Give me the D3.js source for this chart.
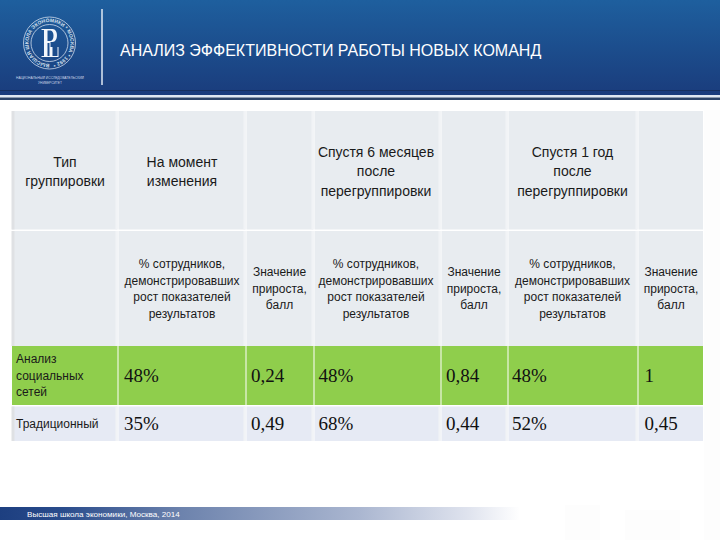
<!DOCTYPE html>
<html>
<head>
<meta charset="utf-8">
<script src="https://d3js.org/d3.v7.min.js"></script>
<style>
html, body { margin: 0; padding: 0; background: #fff; }
svg { display: block; }
</style>
</head>
<body>
<script>
var title = 'АНАЛИЗ ЭФФЕКТИВНОСТИ РАБОТЫ НОВЫХ КОМАНД';
var footer = 'Высшая школа экономики, Москва, 2014';

var columns = ['group', 'now', 'nowScore', 'sixMonths', 'sixScore', 'oneYear', 'yearScore'];
var rows = ['head', 'sub', 'social', 'trad'];

var headRow = [['Тип', 'группировки'], ['На момент', 'изменения'], [],
    ['Спустя 6 месяцев', 'после', 'перегруппировки'], [],
    ['Спустя 1 год', 'после', 'перегруппировки'], []];
var share = ['% сотрудников,', 'демонстрировавших', 'рост показателей', 'результатов'];
var score = ['Значение', 'прироста,', 'балл'];
var subRow = [[], share, score, share, score, share, score];

var groups = [['Анализ', 'социальных', 'сетей'], ['Традиционный']];
var socialValues = ['48%', '0,24', '48%', '0,84', '48%', '1'];
var tradValues = ['35%', '0,49', '68%', '0,44', '52%', '0,45'];

var colEdge = d3.scaleOrdinal().domain(columns).range([12, 118.5, 246.5, 314.5, 441.5, 508.5, 638.5]);
var colEnd = d3.scaleOrdinal().domain(columns).range([117.5, 245.5, 313.5, 440.5, 507.5, 637.5, 703]);
var colText = d3.scaleOrdinal().domain(columns).range([65, 182, 279.5, 376, 474, 572.5, 671]);
var valueX = d3.scaleOrdinal().domain(columns).range([16, 124, 251, 318.5, 446, 512, 644.5]);
var rowEdge = d3.scaleOrdinal().domain(rows).range([111, 231, 346, 406.5]);
var rowEnd = d3.scaleOrdinal().domain(rows).range([229.5, 346, 405, 441]);
var rowFill = d3.scaleOrdinal().domain(rows).range(['#e8ecf0', '#e8ecf0', '#8fce4c', '#e6eaf4']);

var svg = d3.select('body').append('svg')
    .attr('width', 720)
    .attr('height', 540)
    .attr('font-family', '"Liberation Sans", Arial, sans-serif');

var defs = svg.append('defs');

var headGrad = defs.append('linearGradient').attr('id', 'headGrad')
    .attr('x1', 0).attr('x2', 0).attr('y1', 0).attr('y2', 1);
headGrad.append('stop').attr('offset', '0%').attr('stop-color', '#1e5f9e');
headGrad.append('stop').attr('offset', '100%').attr('stop-color', '#1a3c7c');

var footGrad = defs.append('linearGradient').attr('id', 'footGrad');
footGrad.append('stop').attr('offset', '0%').attr('stop-color', '#1d3f80');
footGrad.append('stop').attr('offset', '12%').attr('stop-color', '#2a4c8c');
footGrad.append('stop').attr('offset', '35%').attr('stop-color', '#6d83ad');
footGrad.append('stop').attr('offset', '69%').attr('stop-color', '#aab6d0');
footGrad.append('stop').attr('offset', '90%').attr('stop-color', '#dfe3ee');
footGrad.append('stop').attr('offset', '100%').attr('stop-color', '#ffffff');

// faint watermark behind the table
var mark = svg.append('g').attr('fill', '#fdfdfd');
mark.append('rect').attr('x', 704).attr('y', 110).attr('width', 16).attr('height', 430);
mark.append('rect').attr('x', 565).attr('y', 505).attr('width', 35).attr('height', 35);
mark.append('rect').attr('x', 625).attr('y', 510).attr('width', 55).attr('height', 30);

// header band
svg.append('rect').attr('x', 0).attr('y', 0).attr('width', 720).attr('height', 95)
    .attr('fill', 'url(#headGrad)');
svg.append('rect').attr('x', 0).attr('y', 90).attr('width', 720).attr('height', 1)
    .attr('fill', '#16305f');
svg.append('rect').attr('x', 0).attr('y', 95).attr('width', 720).attr('height', 2.5)
    .attr('fill', '#dfe8f2');
svg.append('rect').attr('x', 0).attr('y', 97.5).attr('width', 720).attr('height', 2.5)
    .attr('fill', '#2c4468');

svg.append('line')
    .attr('x1', 102).attr('x2', 102).attr('y1', 9).attr('y2', 85)
    .attr('stroke', '#dfe8f4').attr('stroke-width', 1.5);

svg.append('text')
    .attr('x', 120).attr('y', 56)
    .attr('font-size', 16)
    .attr('fill', '#fff')
    .text(title);

// logo
var logo = svg.append('g').attr('transform', 'translate(49.5,43)');
logo.append('circle').attr('r', 26).attr('fill', 'none').attr('stroke', '#cfdcec').attr('stroke-width', 0.8);
logo.append('circle').attr('r', 18.5).attr('fill', 'none').attr('stroke', '#cfdcec').attr('stroke-width', 0.8);
logo.append('path').attr('id', 'ringPath').attr('fill', 'none')
    .attr('d', 'M0,21 A21,21 0 1 1 0.01,21');
logo.append('text')
    .attr('font-size', 5)
    .attr('font-weight', 'bold')
    .attr('fill', '#d5e0ee')
    .append('textPath')
    .attr('href', '#ringPath')
    .attr('textLength', 128)
    .text('ВЫСШАЯ ШКОЛА ЭКОНОМИКИ * МОСКВА * 1992 *');
// the R and H monogram
logo.append('path')
    .attr('fill', '#f2f6fb')
    .attr('fill-rule', 'evenodd')
    .attr('d', 'M-8,-14 H3 C9,-14 9,-1 3,-1 H1 V4 H3 V13 H8 V4 H9 V14 H-8 V13 H-5.5 V-13 H-8 Z M-2,-12.5 V-2 H1 C5,-2 5,-12.5 1,-12.5 Z M-2,0 V13 H0 V0 Z');

svg.append('text').attr('x', 50).attr('y', 78.5).attr('text-anchor', 'middle')
    .attr('font-size', 3.6).attr('fill', '#cdd9e8')
    .attr('textLength', 68).attr('lengthAdjust', 'spacingAndGlyphs')
    .text('НАЦИОНАЛЬНЫЙ ИССЛЕДОВАТЕЛЬСКИЙ');
svg.append('text').attr('x', 50).attr('y', 84).attr('text-anchor', 'middle')
    .attr('font-size', 3.6).attr('fill', '#cdd9e8')
    .attr('textLength', 24).attr('lengthAdjust', 'spacingAndGlyphs')
    .text('УНИВЕРСИТЕТ');

// table cells
var cells = [];
rows.forEach(function(r) {
    columns.forEach(function(c) {
        cells.push({row: r, col: c});
    });
});

svg.append('g').selectAll('rect')
    .data(cells)
    .join('rect')
    .attr('x', function(d) { return colEdge(d.col); })
    .attr('y', function(d) { return rowEdge(d.row); })
    .attr('width', function(d) { return colEnd(d.col) - colEdge(d.col); })
    .attr('height', function(d) { return rowEnd(d.row) - rowEdge(d.row); })
    .attr('fill', function(d) { return rowFill(d.row); });

// pale band next to each divider, only in the grey rows
svg.append('g').selectAll('rect')
    .data(cells.filter(function(d) { return d.row != 'social' && d.col != 'group'; }))
    .join('rect')
    .attr('x', function(d) { return colEdge(d.col) - 3; })
    .attr('y', function(d) { return rowEdge(d.row); })
    .attr('width', 2)
    .attr('height', function(d) { return rowEnd(d.row) - rowEdge(d.row); })
    .attr('fill', '#f1f3f6');

// darker left edge of the table
svg.append('g').selectAll('rect')
    .data(rows.filter(function(r) { return r != 'social'; }))
    .join('rect')
    .attr('x', 11.5)
    .attr('y', function(r) { return rowEdge(r); })
    .attr('width', 3)
    .attr('height', function(r) { return rowEnd(r) - rowEdge(r); })
    .attr('fill', '#dfe1e4');

function centerCell(rowName, lines, lineGap, fontSize, dy) {
    var g = svg.append('g').attr('font-size', fontSize).attr('fill', '#1a1a1a').attr('text-anchor', 'middle');
    lines.forEach(function(block, i) {
        var cy = (rowEdge(rowName) + rowEnd(rowName)) / 2;
        g.selectAll(null)
            .data(block)
            .join('text')
            .attr('x', colText(columns[i]))
            .attr('y', function(d, k) { return cy + dy + (k - (block.length - 1) / 2) * lineGap + fontSize * 0.36; })
            .text(function(d) { return d; });
    });
}
centerCell('head', headRow, 19.5, 14, 1);
centerCell('sub', subRow, 16.5, 12, 0);

// group names in the first column
[['social', groups[0]], ['trad', groups[1]]].forEach(function(p) {
    var cy = (rowEdge(p[0]) + rowEnd(p[0])) / 2;
    svg.append('g').selectAll('text')
        .data(p[1])
        .join('text')
        .attr('x', valueX('group'))
        .attr('y', function(d, k) { return cy + (k - (p[1].length - 1) / 2) * 16.5 + 4; })
        .attr('font-size', 12)
        .attr('fill', '#1a1a1a')
        .text(function(d) { return d; });
});

// values
[['social', socialValues], ['trad', tradValues]].forEach(function(p) {
    var cy = (rowEdge(p[0]) + rowEnd(p[0])) / 2;
    svg.append('g').selectAll('text')
        .data(p[1])
        .join('text')
        .attr('x', function(d, i) { return valueX(columns[i + 1]); })
        .attr('y', cy + 6.5)
        .attr('font-family', '"Liberation Serif", serif')
        .attr('font-size', 19)
        .attr('fill', '#111')
        .text(function(d) { return d; });
});

// footer strip
svg.append('rect').attr('x', 0).attr('y', 507).attr('width', 520).attr('height', 13)
    .attr('fill', 'url(#footGrad)');
svg.append('text')
    .attr('x', 27).attr('y', 517)
    .attr('font-size', 8.1)
    .attr('fill', '#fff')
    .text(footer);
</script>
</body>
</html>
